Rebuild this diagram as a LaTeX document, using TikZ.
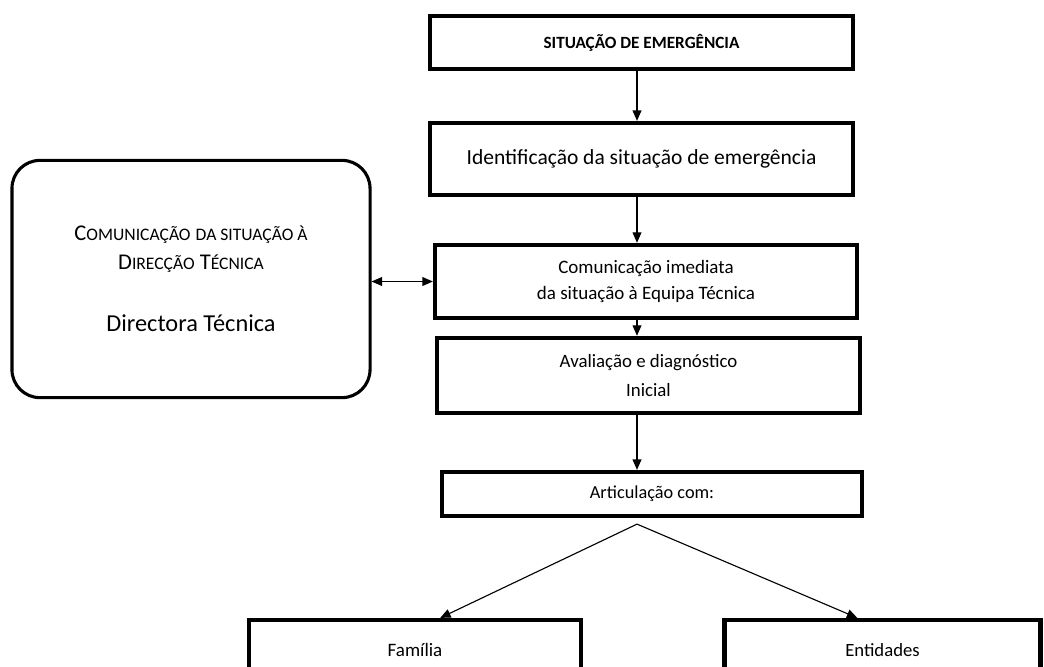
\documentclass[tikz,border=0pt]{standalone}
\usepackage{fontspec}
\setmainfont{Carlito}
\usetikzlibrary{positioning,arrows.meta}
\newcommand\fsz[2]{\fontsize{#1}{#2}\selectfont}
% small caps by hand: full capital, then smaller capitals
\newcommand\scw[2]{#1{\fsz{12.5}{20.5}#2}}
\tikzset{
  >={Triangle[length=2.6mm,width=2.2mm]},
  box/.style={draw, line width=3pt, inner sep=0pt, align=center, minimum width=#1},
  box/.default=10.55cm,
  dirbox/.style={draw, line width=2.2pt, rounded corners=7mm, inner sep=0pt, align=center,
                 minimum width=8.95cm, minimum height=5.93cm},
  flow/.style={->, line width=0.8pt},
  both/.style={<->, line width=0.8pt}
}

\begin{document}
\begin{tikzpicture}[x=0.025cm, y=-0.025cm]
\useasboundingbox (0,0) rectangle (1044,666);
\clip (0,0) rectangle (1044,666);
% main column
\coordinate (axis) at (637,0);
\node[box=10.58cm, minimum height=1.33cm, font=\fsz{12.2}{14}\bfseries] (sit) at (641.5,42.5) {SITUAÇÃO DE EMERGÊNCIA};
\node[box=10.58cm, minimum height=1.8cm, font=\fsz{15.3}{18}] (ident) at (641.5,159) {Identificação da situação de emergência};
\node[box=10.55cm, minimum height=1.83cm, font=\fsz{13.5}{19}] (comeq) at (646,281.5) {Comunicação imediata\\ da situação à Equipa Técnica};
\node[box=10.58cm, minimum height=1.88cm, font=\fsz{13.4}{20}] (aval) at (648.5,375.5) {Avaliação e diagnóstico\\ Inicial};
\node[box=10.5cm, minimum height=1.1cm, font=\fsz{13}{15}] (artic) at (652,494) {Articulação com:};
% bottom row
\node[box=8.3cm, minimum height=1.5cm, font=\fsz{13.5}{15}] (fam) at (415,650) {Família};
\node[box=7.9cm, minimum height=1.5cm, font=\fsz{13.3}{15}] (ent) at (882.5,650) {Entidades};
% side box
\node[dirbox, font=\fsz{16}{20.5}] (dir) at (191,279) {\scw{C}{OMUNICAÇÃO} \scw{}{DA SITUAÇÃO À}\\ \scw{D}{IRECÇÃO} \scw{T}{ÉCNICA}\\[24pt] {\fsz{17.3}{20}Directora Técnica}};
% connectors
\coordinate (apex) at ([yshift=-1.5mm]artic.south -| axis);
\draw[flow] (sit.south -| axis) -- (ident.north -| axis);
\draw[flow] (ident.south -| axis) -- (comeq.north -| axis);
\draw[flow] (comeq.south -| axis) -- (aval.north -| axis);
\draw[flow] (aval.south -| axis) -- (artic.north -| axis);
\draw[both] (dir.east |- comeq.west) -- (comeq.west);
\draw[flow] (apex) -- ([xshift=6.3mm]fam.north);
\draw[flow] (apex) -- ([xshift=-6.3mm]ent.north);
\end{tikzpicture}
\end{document}
